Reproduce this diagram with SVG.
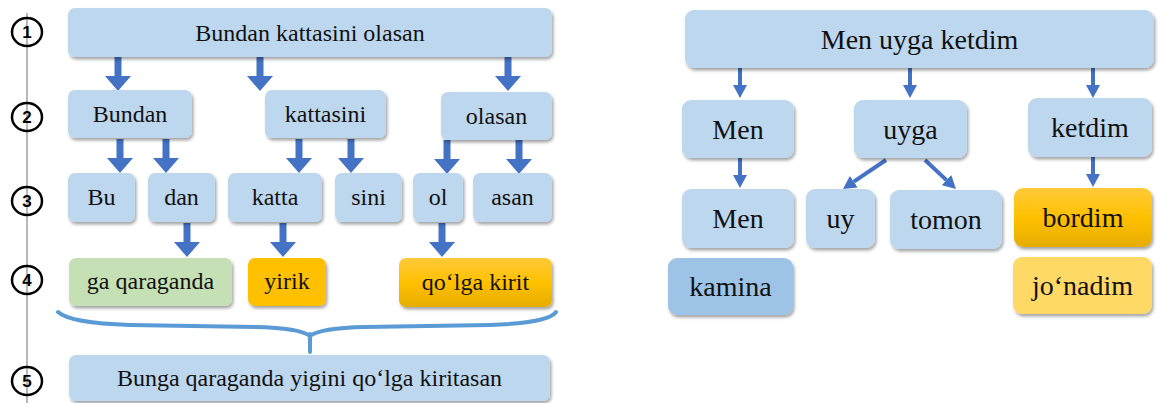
<svg xmlns="http://www.w3.org/2000/svg" width="1158" height="403" viewBox="0 0 1158 403">
<style>
.box{fill:#BDD7EE;filter:url(#sh)}
.t{font-family:'Liberation Serif','DejaVu Serif',serif;font-size:24px;fill:#111;text-anchor:middle}
.tr{font-size:28px}
.num{font-family:'Liberation Sans','DejaVu Sans',sans-serif;font-weight:bold;font-size:17px;fill:#000;text-anchor:middle}
.ring{fill:none;stroke:#000;stroke-width:2.5}
.ba{fill:#4472C4}
.ra{stroke:#4472C4;stroke-width:4;fill:none;marker-end:url(#ah)}
</style>
<defs>
<filter id="sh" x="-10%" y="-10%" width="125%" height="140%">
<feDropShadow dx="1.5" dy="2.5" stdDeviation="1.5" flood-color="#000" flood-opacity="0.35"/>
</filter>
<linearGradient id="og" x1="0" y1="0" x2="0" y2="1">
<stop offset="0" stop-color="#FFCA3A"/>
<stop offset="0.5" stop-color="#FFC000"/>
<stop offset="1" stop-color="#E6AD00"/>
</linearGradient>
<path id="barrow" d="M-3.5,0 L3.5,0 L3.5,19 L13,19 L0,34 L-13,19 L-3.5,19 Z"/>
<marker id="ah" markerUnits="userSpaceOnUse" markerWidth="13" markerHeight="14" viewBox="0 0 13 14" refX="0" refY="7" orient="auto">
<path d="M0,0 L13,7 L0,14 Z" fill="#4472C4"/>
</marker>
</defs>

<g id="levels">
<line x1="27" y1="13" x2="27" y2="403" stroke="#888" stroke-width="1.2"/>
<ellipse class="ring" cx="27" cy="32" rx="15" ry="14"/><text class="num" x="27" y="38" font-family="Liberation Sans, sans-serif">1</text>
<ellipse class="ring" cx="27" cy="117" rx="15" ry="14"/><text class="num" x="27" y="123" font-family="Liberation Sans, sans-serif">2</text>
<ellipse class="ring" cx="27" cy="201" rx="15" ry="14"/><text class="num" x="27" y="207" font-family="Liberation Sans, sans-serif">3</text>
<ellipse class="ring" cx="27" cy="280" rx="15" ry="14"/><text class="num" x="27" y="286" font-family="Liberation Sans, sans-serif">4</text>
<ellipse class="ring" cx="27" cy="381" rx="15" ry="14"/><text class="num" x="27" y="387" font-family="Liberation Sans, sans-serif">5</text>
</g>

<g id="connectors">
<use href="#barrow" class="ba" x="118" y="57"/>
<use href="#barrow" class="ba" x="260" y="57"/>
<use href="#barrow" class="ba" x="508" y="57"/>
<use href="#barrow" class="ba" x="120" y="139"/>
<use href="#barrow" class="ba" x="166" y="139"/>
<use href="#barrow" class="ba" x="299" y="139"/>
<use href="#barrow" class="ba" x="351" y="139"/>
<use href="#barrow" class="ba" x="447" y="140"/>
<use href="#barrow" class="ba" x="519" y="140"/>
<use href="#barrow" class="ba" x="187" y="223"/>
<use href="#barrow" class="ba" x="283" y="223"/>
<use href="#barrow" class="ba" x="442" y="223"/>
<path d="M58,312 Q70,323 130,325 L255,327 Q300,328 310,336 Q320,328 365,327 L490,325 Q548,323 556,312 M310,334 L310,352" fill="none" stroke="#5B9BD5" stroke-width="4" stroke-linecap="round"/>
<line class="ra" x1="740" y1="68" x2="740" y2="85"/>
<line class="ra" x1="910" y1="68" x2="910" y2="85"/>
<line class="ra" x1="1093" y1="68" x2="1093" y2="85"/>
<line class="ra" x1="740" y1="158" x2="740" y2="175"/>
<line class="ra" x1="886" y1="160" x2="853.8" y2="181.7"/>
<line class="ra" x1="925" y1="160" x2="946.5" y2="180.1"/>
<line class="ra" x1="1093" y1="157" x2="1093" y2="174"/>
</g>

<g font-family="Liberation Serif, DejaVu Serif, serif">
<g id="n-top-left"><rect class="box" x="68" y="8" width="484" height="49" rx="7"/><text class="t" x="310" y="40.5">Bundan kattasini olasan</text></g>
<g id="n-bundan"><rect class="box" x="68" y="90" width="124" height="48" rx="7"/><text class="t" x="130" y="121.5">Bundan</text></g>
<g id="n-kattasini"><rect class="box" x="265" y="90" width="121" height="48" rx="7"/><text class="t" x="325.5" y="121.5">kattasini</text></g>
<g id="n-olasan"><rect class="box" x="441" y="92" width="111" height="48" rx="7"/><text class="t" x="496.5" y="123.5">olasan</text></g>
<g id="n-bu"><rect class="box" x="68" y="173" width="67" height="49" rx="7"/><text class="t" x="101.5" y="205">Bu</text></g>
<g id="n-dan"><rect class="box" x="148" y="173" width="67" height="49" rx="7"/><text class="t" x="181.5" y="205">dan</text></g>
<g id="n-katta"><rect class="box" x="228" y="173" width="94" height="49" rx="7"/><text class="t" x="275" y="205">katta</text></g>
<g id="n-sini"><rect class="box" x="335" y="173" width="67" height="49" rx="7"/><text class="t" x="368.5" y="205">sini</text></g>
<g id="n-ol"><rect class="box" x="413" y="173" width="50" height="49" rx="7"/><text class="t" x="438" y="205">ol</text></g>
<g id="n-asan"><rect class="box" x="473" y="173" width="79" height="49" rx="7"/><text class="t" x="512.5" y="205">asan</text></g>
<g id="n-gaqaraganda"><rect class="box" x="69" y="258" width="163" height="48" rx="7" style="fill:#C5E0B4"/><text class="t" x="150.5" y="289">ga qaraganda</text></g>
<g id="n-yirik"><rect class="box" x="248" y="258" width="78" height="48" rx="7" style="fill:#FFC000"/><text class="t" x="287" y="289">yirik</text></g>
<g id="n-qolgakirit"><rect class="box" x="399" y="258" width="153" height="49" rx="7" style="fill:url(#og)"/><text class="t" x="475.5" y="289.5">qo‘lga kirit</text></g>
<g id="n-bottom"><rect class="box" x="69" y="355" width="481" height="46" rx="7"/><text class="t" x="309.5" y="386">Bunga qaraganda yigini qo‘lga kiritasan</text></g>

<g id="n-top-right"><rect class="box" x="685" y="10" width="469" height="58" rx="9"/><text class="t tr" x="919.5" y="48.5">Men uyga ketdim</text></g>
<g id="n-men1"><rect class="box" x="682" y="100" width="112" height="58" rx="9"/><text class="t tr" x="738" y="138.5">Men</text></g>
<g id="n-uyga"><rect class="box" x="854" y="100" width="113" height="58" rx="9"/><text class="t tr" x="910.5" y="138.5">uyga</text></g>
<g id="n-ketdim"><rect class="box" x="1028" y="98" width="124" height="59" rx="9"/><text class="t tr" x="1090" y="137">ketdim</text></g>
<g id="n-men2"><rect class="box" x="682" y="189" width="112" height="59" rx="9"/><text class="t tr" x="738" y="228">Men</text></g>
<g id="n-uy"><rect class="box" x="806" y="189" width="69" height="59" rx="9"/><text class="t tr" x="840.5" y="228">uy</text></g>
<g id="n-tomon"><rect class="box" x="890" y="190" width="112" height="59" rx="9"/><text class="t tr" x="946" y="229">tomon</text></g>
<g id="n-bordim"><rect class="box" x="1014" y="188" width="138" height="59" rx="9" style="fill:url(#og)"/><text class="t tr" x="1083" y="227">bordim</text></g>
<g id="n-kamina"><rect class="box" x="668" y="258" width="125" height="57" rx="9" style="fill:#9DC3E6"/><text class="t tr" x="730.5" y="296">kamina</text></g>
<g id="n-jonadim"><rect class="box" x="1013" y="257" width="139" height="57" rx="9" style="fill:#FFD966"/><text class="t tr" x="1082.5" y="295">jo‘nadim</text></g>
</g>
</svg>
